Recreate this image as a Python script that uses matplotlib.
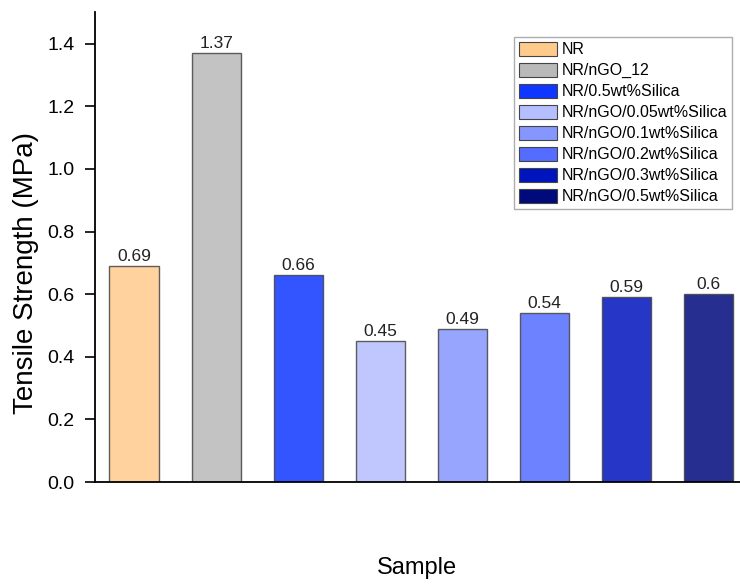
import matplotlib
matplotlib.use('Agg')

import matplotlib.pyplot as plt
from matplotlib.patches import Patch

samples = ["NR", "NR/nGO_12", "NR/0.5wt%Silica", "NR/nGO/0.05wt%Silica",
           "NR/nGO/0.1wt%Silica", "NR/nGO/0.2wt%Silica", "NR/nGO/0.3wt%Silica",
           "NR/nGO/0.5wt%Silica"]
strength = [0.69, 1.37, 0.66, 0.45, 0.49, 0.54, 0.59, 0.60]
labels = ["0.69", "1.37", "0.66", "0.45", "0.49", "0.54", "0.59", "0.6"]
colors = ["#FFCB8D", "#B9B9B9", "#0F37FF", "#B5BEFF",
          "#8696FF", "#546CFF", "#0014BE", "#000A7B"]

plt.rcParams['font.family'] = ['Liberation Sans', 'DejaVu Sans']

fig = plt.figure(figsize=(7.4, 5.85), dpi=100)
ax = fig.add_axes([0.128, 0.176, 0.872, 0.803])

x = list(range(1, len(strength) + 1))
ax.bar(x, strength, width=0.6, color=colors, alpha=0.85,
       edgecolor="#444444", linewidth=1.0, zorder=2)

for xi, v, t in zip(x, strength, labels):
    ax.text(xi, v + 0.006, t, ha="center", va="bottom", fontsize=12.5, color="#222222")

ax.set_xlim(0.52, 8.38)
ax.set_ylim(0, 1.5)
ax.set_yticks([0.0, 0.2, 0.4, 0.6, 0.8, 1.0, 1.2, 1.4])
ax.set_yticklabels(["0.0", "0.2", "0.4", "0.6", "0.8", "1.0", "1.2", "1.4"])
ax.set_xticks([])
ax.tick_params(axis="y", labelsize=14, direction="out", length=7, width=1.2, pad=7.5)
ax.set_ylabel("Tensile Strength (MPa)", fontsize=20)
ax.yaxis.set_label_coords(-0.086, 0.446)
ax.set_xlabel("Sample", fontsize=17, labelpad=54)

ax.spines["top"].set_visible(False)
ax.spines["right"].set_visible(False)
ax.spines["left"].set_linewidth(1.3)
ax.spines["bottom"].set_linewidth(1.3)

handles = [Patch(facecolor=c, edgecolor="#444444", linewidth=0.8) for c in colors]
leg = ax.legend(handles, samples, loc="upper right", bbox_to_anchor=(0.988, 0.947),
                fontsize=11.5, frameon=True, fancybox=False, handlelength=2.4,
                handleheight=0.95, labelspacing=0.35, handletextpad=0.3,
                borderpad=0.3, borderaxespad=0.0)
leg.get_frame().set_edgecolor("#999999")
leg.get_frame().set_linewidth(1.0)

plt.savefig("out.png", dpi=100)
plt.close()
